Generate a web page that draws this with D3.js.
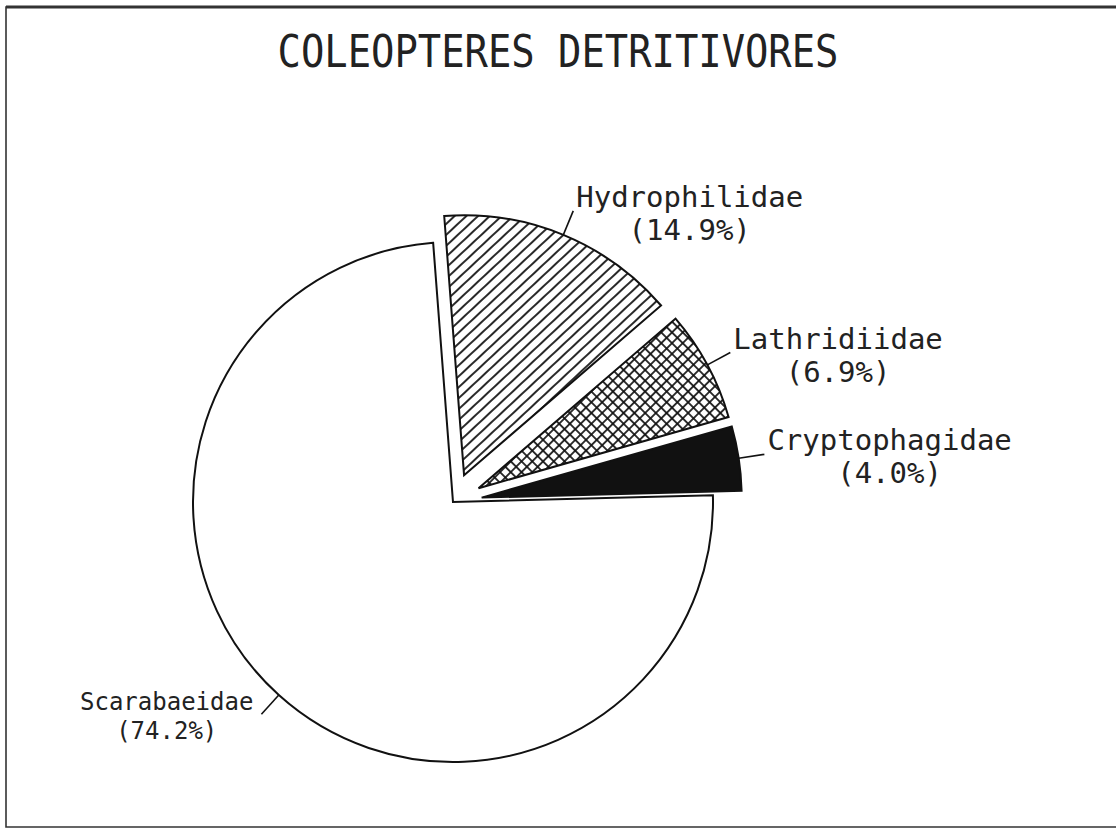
<!DOCTYPE html>
<html>
<head>
<meta charset="utf-8">
<script src="https://cdn.jsdelivr.net/npm/d3@7"></script>
<style>
  body { margin: 0; background: #fff; }
  svg { display: block; }
</style>
</head>
<body>
<svg id="chart"></svg>
<script>
// chart values
const families = ["Scarabaeidae", "Hydrophilidae", "Lathridiidae", "Cryptophagidae"];
const shares = [74.2, 14.9, 6.9, 4.0];
const title = "COLEOPTERES DETRITIVORES";

drawPie()

function drawPie() {
  const width = 1116;
  const height = 830;
  const cx = 453, cy = 502;
  const radius = 260;
  const explode = 29;
  const leader = 26;
  const font = "'DejaVu Sans Mono', 'Liberation Mono', monospace";

  const svg = d3.select('#chart')
    .attr('width', width)
    .attr('height', height)
    .attr('viewBox', [0, 0, width, height]);

  const defs = svg.append('defs');

  // single hatch "/"
  const hatch = defs.append('pattern')
    .attr('id', 'hatch')
    .attr('patternUnits', 'userSpaceOnUse')
    .attr('width', 8).attr('height', 8)
    .attr('patternTransform', 'rotate(47)');
  hatch.append('rect').attr('width', 8).attr('height', 8).attr('fill', '#fff');
  hatch.append('line')
    .attr('x1', 4).attr('y1', 0).attr('x2', 4).attr('y2', 8)
    .attr('stroke', '#111').attr('stroke-width', 1.8);

  // cross hatch
  const cross = defs.append('pattern')
    .attr('id', 'cross')
    .attr('patternUnits', 'userSpaceOnUse')
    .attr('width', 7.6).attr('height', 7.6)
    .attr('patternTransform', 'rotate(45)');
  cross.append('rect').attr('width', 7.6).attr('height', 7.6).attr('fill', '#fff');
  cross.append('line')
    .attr('x1', 3.8).attr('y1', 0).attr('x2', 3.8).attr('y2', 7.6)
    .attr('stroke', '#111').attr('stroke-width', 1.7);
  cross.append('line')
    .attr('x1', 0).attr('y1', 3.8).attr('x2', 7.6).attr('y2', 3.8)
    .attr('stroke', '#111').attr('stroke-width', 1.7);

  // frame (right side runs off the page)
  svg.append('path')
    .attr('d', `M${width + 5},7 H6 V827 H${width + 5}`)
    .attr('fill', 'none')
    .attr('stroke', '#333')
    .attr('stroke-width', 1.6);
  svg.append('line')
    .attr('x1', 6).attr('x2', width).attr('y1', 7).attr('y2', 7)
    .attr('stroke', '#333').attr('stroke-width', 3);

  svg.append('text')
    .attr('x', width / 2)
    .attr('y', 67)
    .attr('text-anchor', 'middle')
    .attr('textLength', 561)
    .attr('lengthAdjust', 'spacingAndGlyphs')
    .style('font-family', font)
    .style('font-size', '44px')
    .attr('fill', '#222')
    .text(title);

  const fill = d3.scaleOrdinal()
    .domain(families)
    .range(['#fff', 'url(#hatch)', 'url(#cross)', '#111']);

  const rad = Math.PI / 180;
  const pie = d3.pie()
    .sort(null)
    .value(d => d.share)
    .startAngle(88.5 * rad)
    .endAngle(88.5 * rad + 2 * Math.PI);

  const arc = d3.arc().innerRadius(0).outerRadius(radius);

  const data = families.map((f, i) => ({ family: f, share: shares[i] }));
  const slices = pie(data);

  slices.forEach(d => {
    d.mid = (d.startAngle + d.endAngle) / 2;
    d.off = d.index === 0 ? 0 : explode;
    d.dx = d.off * Math.sin(d.mid);
    d.dy = -d.off * Math.cos(d.mid);
  });

  const g = svg.append('g').attr('transform', `translate(${cx},${cy})`);

  g.selectAll('path.slice')
    .data(slices)
    .enter()
    .append('path')
    .attr('class', 'slice')
    .attr('transform', d => `translate(${d.dx},${d.dy})`)
    .attr('d', arc)
    .attr('fill', d => fill(d.data.family))
    .attr('stroke', '#111')
    .attr('stroke-width', 2)
    .attr('stroke-linejoin', 'miter');

  // leader lines and labels; the big slice on the left has a smaller label
  slices.forEach(d => {
    const sx = Math.sin(d.mid), sy = -Math.cos(d.mid);
    const px = d.dx + radius * sx, py = d.dy + radius * sy;
    const qx = px + leader * sx, qy = py + leader * sy;
    const right = sx > 0;
    const size = right ? 29 : 24;
    const gap = right ? 33 : 29;

    g.append('line')
      .attr('x1', px).attr('y1', py).attr('x2', qx).attr('y2', qy)
      .attr('stroke', '#111').attr('stroke-width', 1.6);

    const lab = g.append('g');
    const t1 = lab.append('text')
      .attr('text-anchor', 'middle')
      .attr('y', qy - 4)
      .text(d.data.family);
    const t2 = lab.append('text')
      .attr('text-anchor', 'middle')
      .attr('y', qy - 4 + gap)
      .text(`(${d.data.share.toFixed(1)}%)`);
    lab.selectAll('text')
      .style('font-family', font)
      .style('font-size', size + 'px')
      .attr('fill', '#222');

    const w = t1.node().getComputedTextLength();
    const x = right ? qx + 3 + w / 2 : qx - 8 - w / 2;
    t1.attr('x', x);
    t2.attr('x', x);
  });
}
</script>
</body>
</html>
